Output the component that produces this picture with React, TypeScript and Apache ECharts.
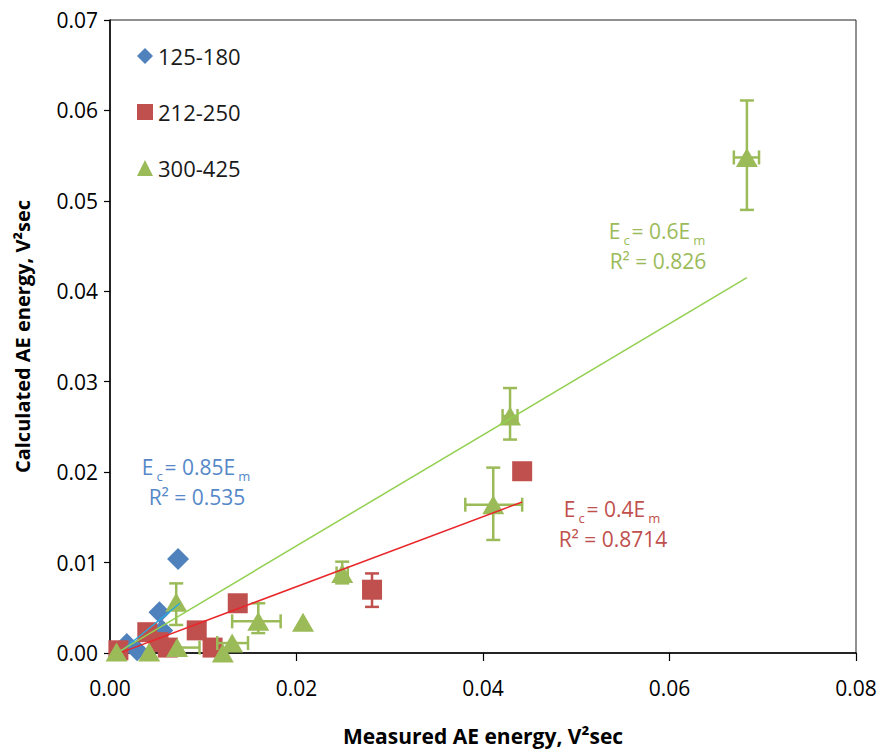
import React, { useEffect, useRef } from 'react';
import * as echarts from 'echarts';

const FONT = "'Open Sans', 'Noto Sans', sans-serif";

const BLUE = '#4F81BD';
const RED = '#C0504D';
const GREEN = '#9BBB59';

const seriesNames = ['125-180', '212-250', '300-425'];

// [measured, calculated]
const blueData = [
  [0.0073, 0.0104],
  [0.0053, 0.0045],
  [0.0056, 0.0025],
  [0.0029, 0.0003],
  [0.0018, 0.001],
];

const redData = [
  [0.0442, 0.0201],
  [0.0281, 0.007],
  [0.0137, 0.0055],
  [0.0093, 0.0025],
  [0.011, 0.0006],
  [0.004, 0.0023],
  [0.0052, 0.0012],
  [0.0062, 0.0006],
  [0.0009, 0.0003],
];

const greenData = [
  [0.0683, 0.0548],
  [0.0429, 0.0262],
  [0.0411, 0.0164],
  [0.0249, 0.0088],
  [0.0207, 0.0034],
  [0.0159, 0.0035],
  [0.0131, 0.0011],
  [0.0121, 0.0],
  [0.0071, 0.0056],
  [0.0072, 0.0006],
  [0.0042, 0.0001],
  [0.0007, 0.0001],
];

// [x, y, xLow, xHigh, yLow, yHigh]
const redErr = [[0.0281, 0.007, 0.0281, 0.0281, 0.0051, 0.0088]];

const greenErr = [
  [0.0683, 0.0548, 0.0669, 0.0696, 0.049, 0.0611],
  [0.0429, 0.0262, 0.0421, 0.0437, 0.0236, 0.0293],
  [0.0411, 0.0164, 0.0381, 0.0442, 0.0125, 0.0205],
  [0.0249, 0.0088, 0.0243, 0.0255, 0.0077, 0.0101],
  [0.0159, 0.0035, 0.0131, 0.0183, 0.0022, 0.0055],
  [0.0131, 0.0011, 0.0115, 0.0148, 0.0011, 0.0011],
  [0.0071, 0.0056, 0.0071, 0.0071, 0.0031, 0.0077],
  [0.0072, 0.0006, 0.0072, 0.0096, 0.0006, 0.0006],
];

const blueTrend = [
  [0.0013, 0.0003],
  [0.0075, 0.0055],
];
const greenTrend = [
  [0.0012, 0.0003],
  [0.0683, 0.0415],
];
const redTrend = [
  [0.0013, 0.0001],
  [0.0442, 0.0167],
];

const xTickStep = 0.02;
const yTickStep = 0.01;

function errRender(color: string) {
  return (params: any, api: any) => {
    const x = api.value(0);
    const y = api.value(1);
    const xlo = api.value(2);
    const xhi = api.value(3);
    const ylo = api.value(4);
    const yhi = api.value(5);
    const cap = 7;
    const style = { stroke: color, lineWidth: 2.5 };
    const children: any[] = [];
    if (yhi !== ylo) {
      const a = api.coord([x, ylo]);
      const b = api.coord([x, yhi]);
      children.push({ type: 'line', shape: { x1: a[0], y1: a[1], x2: b[0], y2: b[1] }, style });
      children.push({ type: 'line', shape: { x1: a[0] - cap, y1: a[1], x2: a[0] + cap, y2: a[1] }, style });
      children.push({ type: 'line', shape: { x1: b[0] - cap, y1: b[1], x2: b[0] + cap, y2: b[1] }, style });
    }
    if (xhi !== xlo) {
      const a = api.coord([xlo, y]);
      const b = api.coord([xhi, y]);
      children.push({ type: 'line', shape: { x1: a[0], y1: a[1], x2: b[0], y2: b[1] }, style });
      children.push({ type: 'line', shape: { x1: a[0], y1: a[1] - cap, x2: a[0], y2: a[1] + cap }, style });
      children.push({ type: 'line', shape: { x1: b[0], y1: b[1] - cap, x2: b[0], y2: b[1] + cap }, style });
    }
    return { type: 'group', children };
  };
}

function annot(cx: number, top: number, color: string, coef: string, r2: string) {
  return {
    type: 'text',
    x: cx,
    y: top,
    z: 100,
    style: {
      text: `{n|E}{s|c}{n|= ${coef}E}{s|m}\n{n|R² = ${r2}}`,
      align: 'center',
      verticalAlign: 'top',
      rich: {
        n: { fontSize: 21, fontFamily: FONT, fill: color, lineHeight: 30 },
        s: {
          fontSize: 13,
          fontFamily: FONT,
          fill: color,
          lineHeight: 13,
          verticalAlign: 'bottom',
          padding: [0, 2, 0, 3],
        },
      },
    },
  };
}

export default function App() {
  const ref = useRef<HTMLDivElement>(null);
  useEffect(() => {
    if (!ref.current) return;
    const chart = echarts.init(ref.current, null, { renderer: 'svg' });
    const axisCommon = {
      type: 'value' as const,
      splitLine: { show: false },
      axisLine: { show: true, onZero: false, lineStyle: { color: '#000', width: 1.5 } },
      axisTick: { show: true, inside: false, lineStyle: { color: '#000', width: 1.2 } },
      nameLocation: 'middle' as const,
      nameTextStyle: { fontSize: 21, fontWeight: 'bold' as const, fontFamily: FONT, color: '#000' },
    };
    chart.setOption({
      animation: false,
      backgroundColor: '#fff',
      grid: { left: 110, right: 27, top: 20, bottom: 100, show: true, borderColor: '#222', borderWidth: 1 },
      legend: {
        orient: 'vertical',
        left: 132,
        top: 40,
        itemWidth: 16,
        itemHeight: 16,
        itemGap: 34,
        selectedMode: false,
        textStyle: { fontSize: 22, fontFamily: FONT, color: '#1a1a1a' },
        data: [
          { name: seriesNames[0], icon: 'diamond' },
          { name: seriesNames[1], icon: 'rect' },
          { name: seriesNames[2], icon: 'triangle' },
        ],
      },
      xAxis: {
        ...axisCommon,
        min: 0,
        max: 0.08,
        interval: xTickStep,
        axisTick: { ...axisCommon.axisTick, length: 8 },
        axisLabel: { formatter: (v: number) => v.toFixed(2), fontSize: 21, fontFamily: FONT, color: '#000', margin: 24 },
        name: 'Measured AE energy, V²sec',
        nameGap: 72,
      },
      yAxis: {
        ...axisCommon,
        min: 0,
        max: 0.07,
        interval: yTickStep,
        axisTick: { ...axisCommon.axisTick, length: 6 },
        axisLabel: { formatter: (v: number) => v.toFixed(2), fontSize: 21, fontFamily: FONT, color: '#000', margin: 12 },
        name: 'Calculated AE energy, V²sec',
        nameGap: 78,
        nameTextStyle: { fontSize: 20, fontWeight: 'bold' as const, fontFamily: FONT, color: '#000' },
      },
      series: [
        {
          name: seriesNames[0],
          type: 'scatter',
          data: blueData,
          symbol: 'diamond',
          symbolSize: [22, 22],
          itemStyle: { color: BLUE, opacity: 1 },
          z: 2,
        },
        {
          type: 'custom',
          renderItem: errRender(RED),
          data: redErr,
          encode: { x: 0, y: 1 },
          z: 3,
        },
        {
          name: seriesNames[1],
          type: 'scatter',
          data: redData,
          symbol: 'rect',
          symbolSize: [20, 20],
          itemStyle: { color: RED, opacity: 1 },
          z: 4,
        },
        {
          type: 'custom',
          renderItem: errRender(GREEN),
          data: greenErr,
          encode: { x: 0, y: 1 },
          z: 5,
        },
        {
          name: seriesNames[2],
          type: 'scatter',
          data: greenData,
          symbol: 'triangle',
          symbolSize: [22, 19],
          itemStyle: { color: GREEN, opacity: 1 },
          z: 6,
        },
        {
          type: 'line',
          data: blueTrend,
          symbol: 'none',
          lineStyle: { color: '#2AA8E0', width: 1.5 },
          z: 7,
        },
        {
          type: 'line',
          data: greenTrend,
          symbol: 'none',
          lineStyle: { color: '#92D050', width: 1.5 },
          z: 8,
        },
        {
          type: 'line',
          data: redTrend,
          symbol: 'none',
          lineStyle: { color: '#E8262A', width: 1.5 },
          z: 9,
        },
      ],
      graphic: [
        annot(197, 452, '#5588C8', '0.85', '0.535'),
        annot(613, 494, RED, '0.4', '0.8714'),
        annot(658, 216, GREEN, '0.6', '0.826'),
      ],
    });
    return () => chart.dispose();
  }, []);
  return <div ref={ref} style={{ width: 883, height: 753, position: 'absolute', left: 0, top: 0 }} />;
}
